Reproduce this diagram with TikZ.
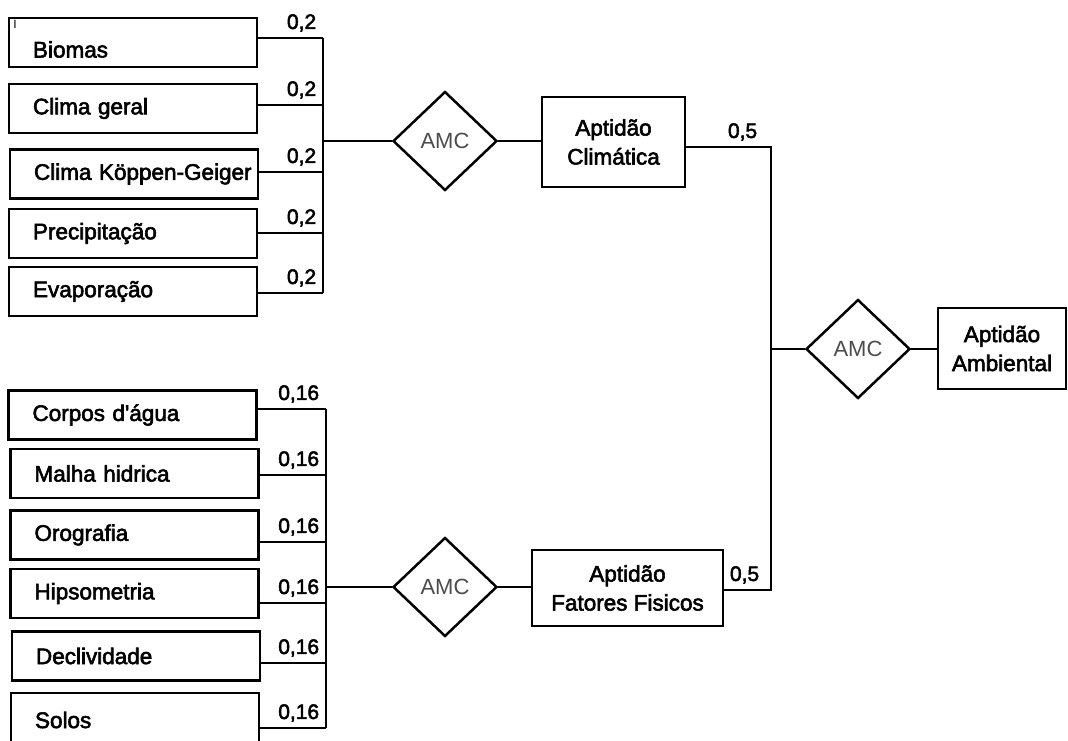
\documentclass[tikz,border=0pt]{standalone}
\usepackage{fontspec}
\setmainfont{Liberation Sans}
\newfontfamily\boxfont{Liberation Sans}[FakeBold=2.5]
\usetikzlibrary{shapes.geometric}
\usetikzlibrary{calc}
\newcommand{\fnode}[3]{\node(#1)[item] at (#2){\hspace*{21pt}#3}}
\newcommand{\wline}[3]{\draw[conn] (#1.east |- #2) -- node[wlabel]{#3} (#2)}

\begin{document}
\begin{tikzpicture}[
        x=1pt, y=-1pt,
        every node/.style={font=\boxfont\fontsize{22.5}{29}\selectfont},
        item/.style={rectangle,minimum height=49pt,text width=242pt,inner xsep=3pt,
                     align=left,line width=2.5pt,draw=black},
        result/.style={rectangle,inner sep=0pt,align=center,line width=2.5pt,draw=black},
        amc/.style={diamond,minimum width=104pt,minimum height=99pt,inner sep=0pt,
                    line width=2.5pt,draw=black,text=black!70,font=\rmfamily\fontsize{22}{24}\selectfont},
        wlabel/.style={pos=1,anchor=south east,inner xsep=0pt,inner ysep=5.5pt,xshift=-6pt,
                       font=\boxfont\fontsize{21}{24}\selectfont},
        conn/.style={line width=1.7pt}
      ]
      \useasboundingbox (0,0) rectangle (1068,740);
      \fnode{bio}{133,42.5}{\smash{\raisebox{-15pt}{Biomas}}};
      \fnode{cger}{133,108.5}{Clima geral};
      \fnode{ckg}{134,174}{Clima Köppen-Geiger};
      \fnode{prec}{133,233.5}{Precipitação};
      \fnode{evap}{133,291.5}{Evaporação};
      \node(tick)[font=\rmfamily\fontsize{12}{12}\selectfont,inner sep=0pt] at (15,24){I};
      \fnode{corp}{132.5,415}{Corpos d'água};
      \fnode{malh}{134.5,473.5}{Malha hidrica};
      \fnode{orog}{134.5,535}{Orografia};
      \fnode{hips}{134.5,593.5}{Hipsometria};
      \fnode{decl}{136,656}{Declividade};
      \node(solo)[item,minimum height=54pt] at (135,720){\hspace*{21pt}Solos};
      \node(amc1)[amc] at (445,141){AMC};
      \node(amc2)[amc] at (445,587){AMC};
      \node(amc3)[amc] at (858,349){AMC};
      \node(clim)[result,minimum width=143pt,minimum height=90pt] at (613.5,142){Aptidão\\Climática};
      \node(fis)[result,minimum width=191pt,minimum height=76pt] at (627.5,588){Aptidão\\Fatores Fisicos};
      \node(amb)[result,minimum width=128pt,minimum height=81pt] at (1002,348.5){Aptidão\\Ambiental};
      \coordinate (w1) at (323,38); \coordinate (w2) at (323,105); \coordinate (w3) at (323,172);
      \coordinate (w4) at (323,233); \coordinate (w5) at (323,293); \coordinate (wj) at (323,141);
      \coordinate (v1) at (326,409); \coordinate (v2) at (326,475); \coordinate (v3) at (326,542);
      \coordinate (v4) at (326,603); \coordinate (v5) at (326,663); \coordinate (v6) at (326,728);
      \coordinate (vj) at (326,587);
      \coordinate (r1) at (771,147); \coordinate (r2) at (771,590); \coordinate (rj) at (771,349);
      \wline{bio}{w1}{0,2}; \wline{cger}{w2}{0,2}; \wline{ckg}{w3}{0,2}; \wline{prec}{w4}{0,2}; \wline{evap}{w5}{0,2};
      \wline{corp}{v1}{0,16}; \wline{malh}{v2}{0,16}; \wline{orog}{v3}{0,16};
      \wline{hips}{v4}{0,16}; \wline{decl}{v5}{0,16}; \wline{solo}{v6}{0,16};
      \draw[conn] (w1) -- (w5);
      \draw[conn] (v1) -- (v6);
      \draw[conn] (wj) -- (amc1.west);
      \draw[conn] (vj) -- (amc2.west);
      \draw[conn] (amc1.east) -- (amc1.east -| clim.west);
      \draw[conn] (amc2.east) -- (amc2.east -| fis.west);
      \draw[conn] (clim.east |- r1) -- node[wlabel,xshift=-7pt]{0,5} (r1) -- (r2) -- node[wlabel,pos=0,xshift=-5pt]{0,5} (fis.east |- r2);
      \draw[conn] (rj) -- (amc3.west);
      \draw[conn] (amc3.east) -- (amc3.east -| amb.west);
    \end{tikzpicture}
\end{document}
